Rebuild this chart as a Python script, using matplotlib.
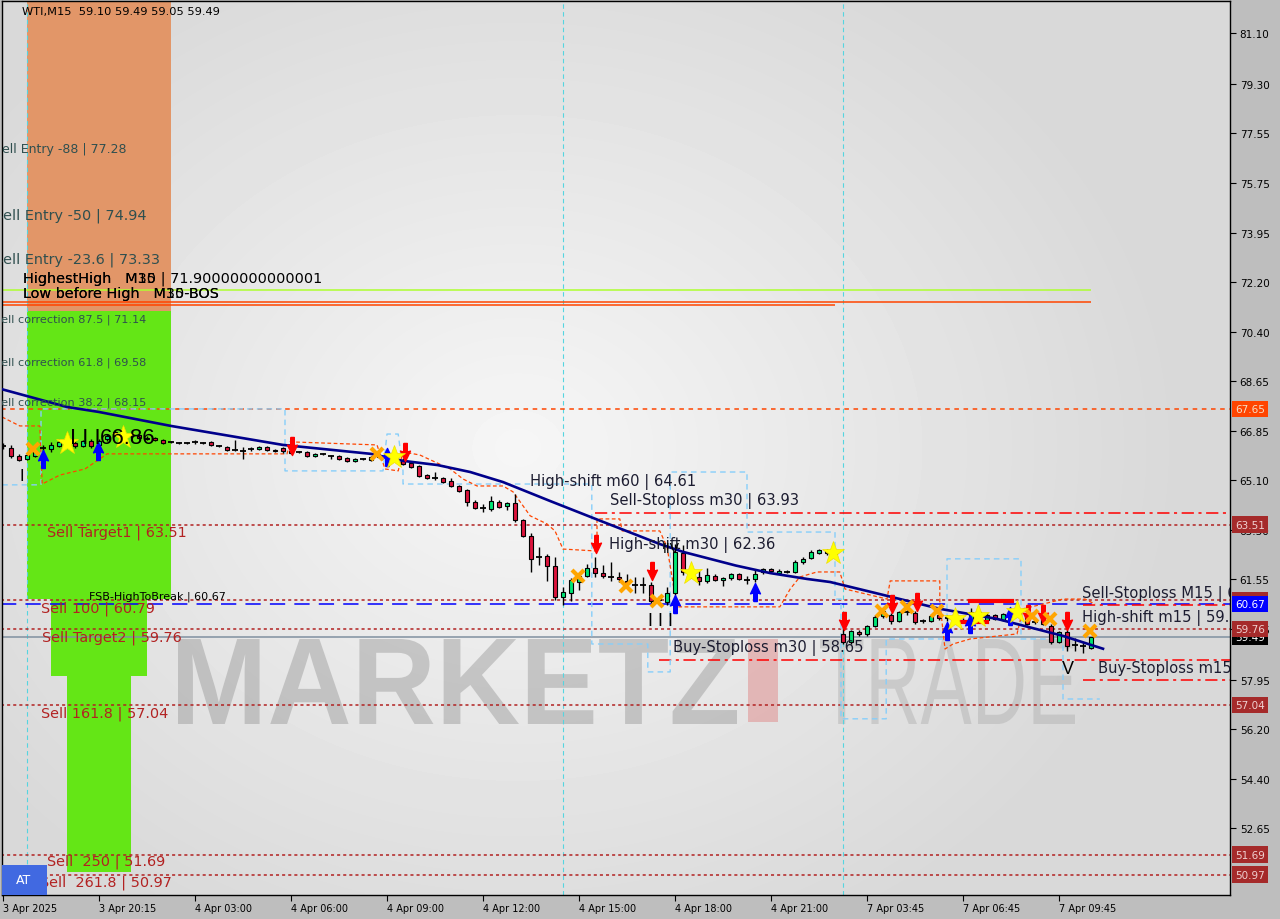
import numpy as np
import matplotlib
matplotlib.use("Agg")
import matplotlib.pyplot as plt
from matplotlib.patches import Rectangle, PathPatch
from matplotlib.path import Path
from matplotlib.textpath import TextPath
from matplotlib.font_manager import FontProperties
from matplotlib.transforms import Affine2D, IdentityTransform

# WTI M15 mumlar (okunan değerler)
opens = [66.32, 66.25, 65.97, 65.86, 65.97, 66.25, 66.21, 66.32, 66.47, 66.43,
         66.32, 66.50, 66.36, 66.57, 66.82, 66.72, 66.68, 66.72, 66.61, 66.61,
         66.54, 66.47, 66.43, 66.43, 66.47, 66.43, 66.47, 66.32, 66.29, 66.18,
         66.14, 66.21, 66.21, 66.29, 66.18, 66.25, 66.14, 66.11, 66.11, 65.97,
         66.04, 65.97, 65.97, 65.89, 65.79, 65.86, 65.82, 65.93, 65.97, 65.93,
         65.82, 65.72, 65.61, 65.29, 65.19, 65.18, 65.07, 64.89, 64.75, 64.32,
         64.10, 64.07, 64.32, 64.17, 64.28, 63.67, 63.10, 62.35, 62.39, 62.03,
         60.92, 61.06, 61.46, 61.67, 61.95, 61.78, 61.63, 61.63, 61.49, 61.34,
         61.34, 61.34, 60.81, 60.74, 61.06, 62.49, 61.81, 61.63, 61.49, 61.67,
         61.53, 61.60, 61.74, 61.53, 61.56, 61.81, 61.92, 61.78, 61.81, 61.81,
         62.17, 62.31, 62.49, 62.60, 62.49, 59.59, 59.30, 59.66, 59.59, 59.88,
         60.23, 60.27, 60.05, 60.37, 60.34, 60.05, 60.05, 60.27, 60.16, 60.20,
         60.09, 60.05, 60.37, 60.09, 60.27, 60.09, 60.30, 60.34, 60.23, 60.02,
         60.12, 59.88, 59.30, 59.66, 59.20, 59.16, 59.10]
highs = [66.43, 66.36, 66.04, 66.04, 66.14, 66.36, 66.47, 66.57, 66.64, 66.54,
         66.54, 66.57, 66.57, 66.75, 66.89, 66.82, 66.79, 66.75, 66.68, 66.64,
         66.57, 66.50, 66.47, 66.47, 66.54, 66.47, 66.50, 66.36, 66.32, 66.54,
         66.29, 66.29, 66.32, 66.32, 66.21, 66.29, 66.18, 66.14, 66.14, 66.07,
         66.07, 66.00, 66.00, 65.93, 65.89, 65.89, 65.97, 66.04, 66.11, 66.04,
         65.90, 65.75, 65.64, 65.32, 65.39, 65.21, 65.18, 64.93, 64.78, 64.39,
         64.25, 64.53, 64.39, 64.32, 64.60, 63.71, 63.21, 62.71, 62.46, 62.35,
         61.28, 61.60, 61.74, 62.10, 62.35, 62.06, 62.17, 61.81, 61.74, 61.63,
         61.63, 61.45, 60.95, 61.28, 62.81, 62.78, 61.88, 61.88, 61.95, 61.74,
         61.63, 61.78, 61.78, 61.67, 61.92, 61.95, 61.95, 61.92, 61.88, 62.24,
         62.35, 62.60, 62.64, 62.64, 62.60, 59.84, 59.73, 59.73, 59.91, 60.27,
         60.45, 60.34, 60.41, 60.45, 60.41, 60.12, 60.30, 60.30, 60.27, 60.27,
         60.16, 60.52, 60.41, 60.34, 60.30, 60.34, 60.41, 60.37, 60.27, 60.09,
         60.20, 59.95, 59.70, 59.73, 59.45, 59.30, 59.49]
lows = [66.21, 65.90, 65.79, 65.82, 65.93, 66.14, 66.11, 66.29, 66.43, 66.25,
        66.29, 66.25, 66.32, 66.50, 66.68, 66.64, 66.61, 66.57, 66.54, 66.50,
        66.40, 66.43, 66.40, 66.40, 66.40, 66.40, 66.32, 66.29, 66.14, 66.14,
        65.86, 66.14, 66.18, 66.14, 66.11, 66.07, 66.04, 66.07, 65.93, 65.93,
        66.00, 65.86, 65.82, 65.75, 65.75, 65.82, 65.79, 65.89, 65.89, 65.82,
        65.64, 65.54, 65.21, 65.14, 65.10, 65.00, 64.86, 64.68, 64.17, 64.07,
        63.96, 63.99, 64.10, 64.03, 63.60, 63.06, 61.81, 62.06, 61.49, 60.81,
        60.63, 60.77, 61.17, 61.63, 61.63, 61.60, 61.49, 61.45, 61.38, 61.06,
        61.06, 60.70, 60.70, 60.63, 60.99, 61.70, 61.60, 61.34, 61.42, 61.49,
        61.31, 61.53, 61.53, 61.38, 61.45, 61.74, 61.78, 61.74, 61.78, 61.78,
        62.10, 62.28, 62.46, 62.42, 62.39, 59.23, 59.23, 59.52, 59.52, 59.84,
        60.16, 59.95, 60.02, 60.27, 59.95, 59.98, 60.02, 60.09, 60.05, 60.02,
        59.98, 60.02, 60.23, 60.05, 60.09, 60.05, 60.20, 60.20, 59.91, 59.95,
        59.91, 59.23, 59.27, 58.98, 58.98, 58.91, 59.05]
closes = [66.32, 65.97, 65.82, 66.00, 66.11, 66.25, 66.36, 66.47, 66.57, 66.32,
          66.50, 66.32, 66.50, 66.68, 66.72, 66.75, 66.72, 66.61, 66.57, 66.54,
          66.43, 66.47, 66.43, 66.43, 66.47, 66.43, 66.36, 66.32, 66.18, 66.18,
          66.14, 66.21, 66.29, 66.18, 66.14, 66.14, 66.07, 66.11, 65.97, 66.04,
          66.04, 65.97, 65.86, 65.79, 65.86, 65.86, 65.93, 65.97, 66.04, 65.86,
          65.68, 65.57, 65.25, 65.18, 65.19, 65.04, 64.89, 64.71, 64.32, 64.10,
          64.10, 64.35, 64.14, 64.28, 63.67, 63.10, 62.28, 62.35, 62.03, 60.92,
          61.09, 61.53, 61.67, 61.95, 61.78, 61.67, 61.63, 61.56, 61.42, 61.34,
          61.34, 60.77, 60.88, 61.06, 62.53, 61.81, 61.67, 61.49, 61.70, 61.53,
          61.60, 61.74, 61.56, 61.53, 61.74, 61.92, 61.85, 61.85, 61.81, 62.17,
          62.28, 62.53, 62.60, 62.49, 62.46, 59.30, 59.69, 59.59, 59.88, 60.20,
          60.41, 60.05, 60.37, 60.37, 60.02, 60.05, 60.23, 60.16, 60.20, 60.09,
          60.05, 60.37, 60.30, 60.27, 60.12, 60.30, 60.34, 60.23, 59.95, 60.02,
          59.95, 59.30, 59.66, 59.16, 59.20, 59.16, 59.49]

# hareketli ortalama (lacivert çizgi)
ma_bar = [-0.2, 8, 12, 21, 35, 46, 50, 54.3, 58.4, 62.5, 68.4, 74.6, 82.1, 85,
          91.6, 95.9, 100.5, 103.4, 109, 117.1, 124.25, 132.5, 137.5]
ma_val = [68.36, 67.72, 67.54, 67.04, 66.36, 66.04, 65.79, 65.64, 65.39, 65.03,
          64.35, 63.65, 62.81, 62.53, 62.04, 61.77, 61.56, 61.45, 61.06, 60.49,
          60.13, 59.52, 59.06]

# turuncu kesikli zarf
env_bar = [-0.12, 2.1, 4.6, 4.9, 7.1, 10.25, 12.1, 13, 35.5, 35.9, 46.75, 47.75,
           49.4, 50, 52.1, 55.9, 57.5, 59.25, 62.5, 63.75, 65.9, 68, 69, 70,
           74.25, 74.25, 77.1, 77.4, 82.1, 83, 84.25, 97.1, 98.4, 99.6, 101.75,
           104.6, 105.25, 110.5, 110.9, 117.1, 117.1, 117.75, 118.75, 120.9,
           126.75, 127.5, 130, 132.5, 135.25, 136.5]
env_val = [67.36, 67.04, 67.04, 64.96, 65.28, 65.50, 65.86, 66.04, 66.04, 66.47,
           66.36, 65.50, 65.43, 66.11, 66.00, 65.50, 65.14, 64.89, 64.89, 64.68,
           63.82, 63.53, 63.28, 62.63, 62.56, 63.71, 63.71, 63.28, 63.28, 62.71,
           60.56, 60.56, 61.20, 61.63, 61.81, 61.81, 61.20, 60.84, 61.49, 61.49,
           60.74, 59.05, 59.23, 59.41, 59.59, 60.49, 60.66, 60.84, 60.84, 60.66]

# açık mavi kesikli kutular
box_bar = [-0.1, 4.75, 4.75, 35.25, 35.25, 47.5, 48, 49.4, 50, 50, 73.6, 73.6,
           80.6, 80.6, 83.4, 83.4, 93, 93, 104, 104, 104.75, 104.75, 110.4,
           110.4, 118, 118, 127.25, 127.25, 132.5, 132.5, 137.1]
box_val = [64.93, 64.93, 67.65, 67.65, 65.43, 65.43, 66.75, 66.75, 65.43, 64.96,
           64.96, 59.23, 59.23, 58.23, 58.23, 65.39, 65.39, 63.24, 63.24, 60.84,
           60.84, 56.55, 56.55, 59.41, 59.41, 62.28, 62.28, 59.41, 59.41, 57.26,
           57.26]

# sinyaller
down_bar = [36.1, 50.25, 74.1, 81.1, 105.1, 111.1, 114.25, 128.1, 130, 133]
down_val = [66.32, 66.11, 62.81, 61.85, 60.06, 60.66, 60.74, 60.31, 60.31, 60.06]
up_bar = [5, 11.9, 48, 84, 94, 118, 120.9, 125.9]
up_val = [65.86, 66.14, 65.93, 60.66, 61.09, 59.70, 59.95, 60.23]
x_bar = [3.75, 46.75, 71.9, 77.9, 81.75, 109.9, 113, 116.75, 128.6, 130.9, 135.9]
x_val = [66.21, 66.04, 61.67, 61.31, 60.77, 60.41, 60.56, 60.41, 60.23, 60.13, 59.70]
star_bar = [8, 15, 48.9, 86, 103.75, 119, 121.9, 126.75]
star_val = [66.43, 66.64, 65.93, 61.77, 62.49, 60.13, 60.23, 60.38]
seg_x0 = [120.9, 119]
seg_x1 = [126.1, 123]
seg_val = [60.77, 60.02]

# seviyeler
lvl_price = [71.90, 71.47, 71.37, 67.65, 63.93, 63.51, 60.79, 60.67, 60.64,
             59.76, 59.49, 58.65, 57.95, 57.04, 51.69, 50.97]
lvl_start = [-0.2, -0.2, -0.2, -0.2, 74, -0.2, -0.2, -0.2, 135,
             -0.2, -0.2, 82, 135, -0.2, -0.2, -0.2]
lvl_end = [136, 136, 104, None, None, None, None, None, None,
           None, None, None, None, None, None, None]
lvl_color = ["#ADFF2F", "#FF4500", "#FF4500", "#FF4500", "#FF0000", "#B22222",
             "#B22222", "#0000FF", "#FF0000", "#B22222", "#8090A0", "#FF0000",
             "#FF0000", "#B22222", "#B22222", "#B22222"]
lvl_style = ["-", "-", "-", (0, (3, 3)), (0, (8, 3, 2, 3)), (0, (2, 2)),
             (0, (2, 2)), (0, (10, 6)), (0, (8, 3, 2, 3)), (0, (2, 2)), "-",
             (0, (8, 3, 2, 3)), (0, (8, 3, 2, 3)), (0, (2, 2)), (0, (2, 2)),
             (0, (2, 2))]

# bölgeler
zone_x0 = [3, 3, 6, 8]
zone_x1 = [21, 21, 18, 16]
zone_lo = [71.16, 60.84, 58.09, 51.07]
zone_hi = [83.0, 71.16, 60.84, 58.09]
zone_col = ["#E29668", "#64E616", "#64E616", "#64E616"]

# yazılar
lab_text = ["Sell Entry -88 | 77.28", "Sell Entry -50 | 74.94", "Sell Entry -23.6 | 73.33",
            "Sell correction 87.5 | 71.14", "Sell correction 61.8 | 69.58",
            "Sell correction 38.2 | 68.15",
            "HighestHigh   M30 | 71.90000000000001", "HighestHigh   M15",
            "Low before High   M30-BOS", "Low before High   M15-BOS",
            "Sell Target1 | 63.51", "FSB-HighToBreak | 60.67", "Sell 100 | 60.79",
            "Sell Target2 | 59.76", "Sell 161.8 | 57.04", "Sell  250 | 51.69",
            "Sell  261.8 | 50.97",
            "High-shift m60 | 64.61", "Sell-Stoploss m30 | 63.93",
            "High-shift m30 | 62.36", "Buy-Stoploss m30 | 58.65",
            "Sell-Stoploss M15 | 60.64", "High-shift m15 | 59.76",
            "Buy-Stoploss m15 | 57.95"]
lab_x = [-1.1, -1.1, -1.1, -1.1, -1.1, -1.1, 2.5, 2.5, 2.5, 2.5,
         5.5, 10.75, 4.75, 4.9, 4.75, 5.5, 4.6,
         65.9, 75.9, 75.75, 83.75, 134.9, 134.9, 136.9]
lab_y = [76.96, 74.59, 73.02, 70.87, 69.33, 67.90, 72.34, 72.34, 71.80, 71.80,
         63.24, 60.95, 60.52, 59.48, 56.76, 51.46, 50.71,
         65.07, 64.39, 62.81, 59.12, 61.06, 60.20, 58.37]
lab_color = ["#2F4F4F"] * 6 + ["black"] * 4 + ["#B22222", "black"] + ["#B22222"] * 5 + ["#1C1C30"] * 7
lab_size = [9, 10.4, 10.4, 8.1, 8.1, 8.1, 10.4, 10.4, 10.4, 10.4,
            10.4, 8, 10.4, 10.4, 10.4, 10.4, 10.4,
            10.6, 10.6, 10.6, 10.6, 10.6, 10.6, 10.6]

sym_text = ["I", "I I I", "66.86", "I I I", "V", "IIV"]
sym_x = [2.1, 8.4, 12.1, 80.6, 132.4, 82.5]
sym_y = [65.28, 66.61, 66.61, 60.06, 58.34, 62.68]
sym_size = [12, 16, 16, 13, 13, 10]

yticks = [81.10, 79.30, 77.55, 75.75, 73.95, 72.20, 70.40, 68.65, 66.85, 65.10,
          63.30, 61.55, 59.75, 57.95, 56.20, 54.40, 52.65]
xtick_bar = [0, 12, 24, 36, 48, 60, 72, 84, 96, 108, 120, 132]
xtick_lbl = ["3 Apr 2025", "3 Apr 20:15", "4 Apr 03:00", "4 Apr 06:00", "4 Apr 09:00",
             "4 Apr 12:00", "4 Apr 15:00", "4 Apr 18:00", "4 Apr 21:00",
             "7 Apr 03:45", "7 Apr 06:45", "7 Apr 09:45"]
sep_bar = [3, 70, 105]

tag_price = [67.65, 63.51, 60.79, 60.67, 59.49, 59.76, 57.04, 51.69, 50.97]
tag_face = ["#FF4500", "#A52A2A", "#A52A2A", "#0000FF", "#000000", "#A52A2A",
            "#A52A2A", "#A52A2A", "#A52A2A"]
tag_fg = ["#F5E0C8", "#F0D0D0", "#F0D0D0", "white", "white", "#F0D0D0",
          "#F0D0D0", "#F0D0D0", "#F0D0D0"]

XMIN, XMAX = -0.125, 153.375
YMIN, YMAX = 50.24, 82.26

fig = plt.figure(figsize=(12.8, 9.2), dpi=100, facecolor="#BEBEBE")
ax = fig.add_axes([2 / 1280, 24 / 920, 1228 / 1280, 894 / 920])

# arka plan gradyanı
gy, gx = np.mgrid[0:1:200j, 0:1:300j]
dist = np.sqrt(((gx - 0.42) / 0.75) ** 2 + ((gy - 0.5) / 0.85) ** 2)
bg = np.clip(0.965 - 0.16 * dist, 0.85, 0.965)
ax.imshow(bg, cmap="gray", vmin=0, vmax=1, extent=[0, 1, 0, 1],
          transform=ax.transAxes, aspect="auto", zorder=0, interpolation="bilinear")


def watermark(txt, x0, top, w, h, weight, color, alpha):
    tp = TextPath((0, 0), txt, size=100, prop=FontProperties(family="Liberation Sans", weight=weight))
    bb = tp.get_extents()
    tr = Affine2D().translate(-bb.x0, -bb.y0).scale(w / bb.width, h / bb.height).translate(x0, 920 - top - h)
    ax.add_artist(PathPatch(tr.transform_path(tp), transform=IdentityTransform(),
                            fc=color, ec="none", alpha=alpha, zorder=0.6))


watermark("MARKETZ", 178, 640, 559, 85, "bold", "#8C8C8C", 0.4)
watermark("TRADE", 820, 640, 255, 85, "normal", "#A8A8A8", 0.4)
ax.add_artist(Rectangle((748, 920 - 723), 30, 83, transform=IdentityTransform(),
                        fc="#E08888", ec="none", alpha=0.5, zorder=0.6))

for i in range(len(zone_x0)):
    ax.add_patch(Rectangle((zone_x0[i], zone_lo[i]), zone_x1[i] - zone_x0[i],
                           zone_hi[i] - zone_lo[i], fc=zone_col[i], ec="none", zorder=1))

for b in sep_bar:
    ax.axvline(b, color="#55D5E0", lw=0.8, ls=(0, (4, 3)), zorder=1.5)

for p, s, e, c, st in zip(lvl_price, lvl_start, lvl_end, lvl_color, lvl_style):
    ax.hlines(p, s, XMAX if e is None else e, colors=c, linestyles=[st], lw=1.1, zorder=2)

ax.plot(box_bar, box_val, color="#87CEFA", lw=1, ls=(0, (4, 3)), zorder=2.2)
ax.plot(env_bar, env_val, color="#FF4500", lw=0.9, ls=(0, (3, 2)), zorder=2.2)

# mumlar
o = np.array(opens)
h = np.array(highs)
l = np.array(lows)
c = np.array(closes)
xb = np.arange(len(o))
bull = c > o
bear = c < o
doji = c == o
ax.vlines(xb, l, h, colors="black", lw=1, zorder=4)
ax.bar(xb[bull], (c - o)[bull], bottom=o[bull], width=0.62, color="#00E676",
       edgecolor="black", lw=0.8, zorder=5)
ax.bar(xb[bear], (o - c)[bear], bottom=c[bear], width=0.62, color="#DC143C",
       edgecolor="black", lw=0.8, zorder=5)
ax.hlines(o[doji], xb[doji] - 0.32, xb[doji] + 0.32, colors="black", lw=1.3, zorder=5)

ax.plot(ma_bar, ma_val, color="#00008B", lw=1.9, zorder=6)

for x0, x1, v in zip(seg_x0, seg_x1, seg_val):
    ax.plot([x0, x1], [v, v], color="#FF0000", lw=3, zorder=6)

arrow_down = Path([(-0.2, 1.0), (0.2, 1.0), (0.2, 0.05), (0.55, 0.15), (0.0, -1.0),
                   (-0.55, 0.15), (-0.2, 0.05), (-0.2, 1.0)])
arrow_up = Path([(x, -y) for x, y in arrow_down.vertices])
ax.plot(down_bar, down_val, ls="none", marker=arrow_down, ms=13, color="#FF0000", zorder=7)
ax.plot(up_bar, up_val, ls="none", marker=arrow_up, ms=13, color="#0000FF", zorder=7)
ax.plot(x_bar, x_val, ls="none", marker="x", ms=9, mew=3, color="#FFA500", zorder=7)
ax.plot(star_bar, star_val, ls="none", marker="*", ms=17, color="#FFFF00",
        mec="#F0E000", mew=0.5, zorder=7)

for t, x, y, col, fs in zip(lab_text, lab_x, lab_y, lab_color, lab_size):
    ax.text(x, y, t, color=col, fontsize=fs, ha="left", va="center", clip_on=True, zorder=8)
for t, x, y, fs in zip(sym_text, sym_x, sym_y, sym_size):
    ax.text(x, y, t, color="black", fontsize=fs, ha="left", va="center",
            family="Liberation Sans", zorder=8)

ax.text(0.016, 0.9885, "WTI,M15  59.10 59.49 59.05 59.49", transform=ax.transAxes,
        fontsize=8.2, ha="left", va="center", color="black", zorder=9)

ax.add_patch(Rectangle((0, 0), 45 / 1228, 30 / 894, transform=ax.transAxes,
                       fc="#4169E1", ec="none", zorder=9))
ax.text(22 / 1228, 15 / 894, "AT", transform=ax.transAxes, color="white",
        fontsize=9, ha="center", va="center", zorder=10)

ax.set_xlim(XMIN, XMAX)
ax.set_ylim(YMIN, YMAX)

ax.yaxis.tick_right()
ax.set_yticks(yticks)
ax.set_yticklabels([f"{v:.2f}" for v in yticks])
ax.set_xticks(xtick_bar)
ax.set_xticklabels(xtick_lbl)
for lbl in ax.get_xticklabels():
    lbl.set_horizontalalignment("left")
ax.tick_params(axis="y", direction="out", length=4, pad=3, labelsize=7.5, colors="black")
ax.tick_params(axis="x", direction="out", length=4, pad=2, labelsize=7, colors="black")
for sp in ax.spines.values():
    sp.set_color("black")
    sp.set_linewidth(1)

for p, fc, fg in zip(tag_price, tag_face, tag_fg):
    ax.annotate(f"{p:.2f}", xy=(1, p), xycoords=("axes fraction", "data"),
                xytext=(5, 0), textcoords="offset pixels", ha="left", va="center",
                fontsize=7.5, color=fg, annotation_clip=False, zorder=12,
                bbox=dict(boxstyle="square,pad=0.3", fc=fc, ec="none"))

fig.savefig("out.png", dpi=100, facecolor=fig.get_facecolor())
